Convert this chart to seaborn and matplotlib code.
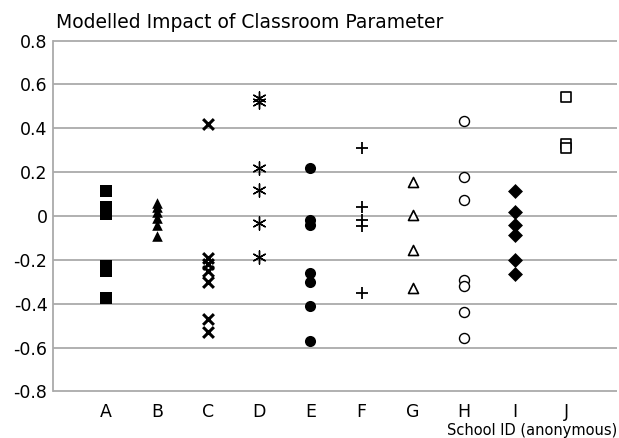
import matplotlib
matplotlib.use("Agg")
import matplotlib.pyplot as plt
import seaborn as sns
import pandas as pd

schools = ["A", "B", "C", "D", "E", "F", "G", "H", "I", "J"]
vals_A = [0.115, 0.04, 0.01, -0.23, -0.25, -0.375]
vals_B = [0.06, 0.04, 0.02, -0.01, -0.04, -0.09]
vals_C = [0.42, -0.19, -0.22, -0.25, -0.30, -0.47, -0.53]
vals_D = [0.54, 0.52, 0.22, 0.12, -0.03, -0.185]
vals_E = [0.22, -0.02, -0.04, -0.26, -0.30, -0.41, -0.57]
vals_F = [0.31, 0.04, -0.02, -0.045, -0.35]
vals_G = [0.155, 0.005, -0.155, -0.33]
vals_H = [0.435, 0.18, 0.075, -0.29, -0.32, -0.44, -0.555]
vals_I = [0.115, 0.02, -0.04, -0.085, -0.20, -0.265]
vals_J = [0.545, 0.33, 0.31]
all_vals = [vals_A, vals_B, vals_C, vals_D, vals_E, vals_F, vals_G, vals_H, vals_I, vals_J]
y_ticks = [-0.8, -0.6, -0.4, -0.2, 0, 0.2, 0.4, 0.6, 0.8]
y_tick_labels = ["-0.8", "-0.6", "-0.4", "-0.2", "0", "0.2", "0.4", "0.6", "0.8"]

df = pd.DataFrame({
    "school": [s for s, v in zip(schools, all_vals) for _ in v],
    "impact": [x for v in all_vals for x in v],
})

# marker styles per school: (marker, fill mode, size, linewidth)
styles = {
    "A": ("s", True, 64, 0),
    "B": ("^", True, 58, 0),
    "C": ("x", False, 60, 2.2),
    "D": ((6, 2, 0), False, 90, 1.0),
    "E": ("o", True, 64, 0),
    "F": ("+", False, 85, 1.3),
    "G": ("^", "open", 52, 1.2),
    "H": ("o", "open", 52, 1.0),
    "I": ("D", True, 58, 0),
    "J": ("s", "open", 52, 1.2),
}

sns.set_style("white")
plt.rcParams["font.family"] = ["DejaVu Sans"]
plt.rcParams["text.color"] = "black"
plt.rcParams["xtick.color"] = "black"
plt.rcParams["ytick.color"] = "black"

fig = plt.figure(figsize=(6.19, 4.38), dpi=100)
ax = fig.add_axes([53 / 619, 46 / 438, 564.5 / 619, 352 / 438])

for s in schools:
    sub = df[df["school"] == s]
    m, filled, size, lw = styles[s]
    if filled is True:
        sns.scatterplot(data=sub, x="school", y="impact", marker=m, s=size,
                        color="black", edgecolor="black", linewidth=0, ax=ax, zorder=3)
    elif filled == "open":
        sns.scatterplot(data=sub, x="school", y="impact", marker=m, s=size,
                        facecolor="white", edgecolor="black", linewidth=lw, ax=ax, zorder=3)
    else:
        sns.scatterplot(data=sub, x="school", y="impact", marker=m, s=size,
                        color="black", linewidth=lw, ax=ax, zorder=3)

ax.set_xlim(-1.03, 10.0)
ax.set_ylim(-0.803, 0.803)
ax.set_yticks(y_ticks)
ax.set_yticklabels(y_tick_labels)
ax.grid(axis="y", color="#aaaaaa", linewidth=1.3, zorder=0)
ax.set_axisbelow(True)
for name, sp in ax.spines.items():
    sp.set_visible(name == "left")
ax.spines["left"].set_color("#aaaaaa")
ax.spines["left"].set_linewidth(1.3)
ax.spines["left"].set_bounds(-0.8, 0.8)
ax.tick_params(axis="both", length=0, labelsize=12.5, labelcolor="black")
ax.tick_params(axis="y", pad=4)
ax.tick_params(axis="x", pad=8)
ax.set_xlabel("")
ax.set_ylabel("")

fig.text(56 / 619, 1 - 28 / 438, "Modelled Impact of Classroom Parameter",
         fontsize=13.5, ha="left", va="baseline", color="black")
fig.text(617 / 619, 1 - 435 / 438, "School ID (anonymous)",
         fontsize=10.5, ha="right", va="baseline", color="black")

fig.savefig("out.png", dpi=100)
